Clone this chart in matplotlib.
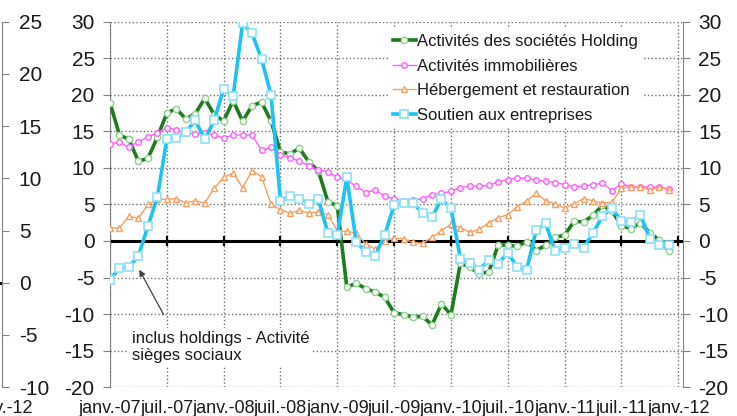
import matplotlib
matplotlib.use("Agg")
import matplotlib.pyplot as plt
import numpy as np

plt.rcParams['font.family'] = ['Liberation Sans', 'DejaVu Sans']
plt.rcParams['axes.unicode_minus'] = False

# monthly values, janv. 2007 -> déc. 2011
months = np.arange(60)
tick_pos = np.arange(0, 61, 6)
tick_labels = ['janv.-07', 'juil.-07', 'janv.-08', 'juil.-08', 'janv.-09', 'juil.-09',
               'janv.-10', 'juil.-10', 'janv.-11', 'juil.-11', 'janv.-12']

holding = [18.9, 14.5, 13.9, 10.9, 11.3, 14.2, 17.5, 18.1, 16.7, 17.4,
           19.5, 17.3, 16.4, 19.2, 16.4, 18.5, 19.0, 16.4, 12.2, 11.9,
           12.7, 10.8, 9.6, 5.4, 4.8, -6.3, -5.8, -6.5, -7.0, -7.7,
           -9.8, -10.1, -10.4, -10.3, -11.5, -8.6, -10.1, -3.0, -3.6, -4.5,
           -4.2, -0.5, -0.6, -0.7, -0.1, -1.3, -0.6, 0.5, 0.8, 2.7,
           2.6, 3.5, 4.9, 4.1, 2.1, 1.7, 2.5, 1.1, 0.1, -1.4]
immo = [13.3, 13.5, 12.8, 13.6, 14.2, 14.8, 15.5, 15.2, 14.8, 14.6,
        14.8, 14.5, 14.1, 14.5, 14.5, 14.5, 12.4, 12.8, 11.8, 11.4,
        10.9, 10.3, 9.7, 9.5, 8.7, 8.3, 7.5, 6.6, 7.0, 6.1,
        5.8, 5.5, 5.6, 5.8, 6.3, 6.5, 6.8, 7.3, 7.5, 7.5,
        7.6, 8.1, 8.4, 8.6, 8.6, 8.3, 8.2, 8.0, 7.7, 7.4,
        7.5, 7.7, 7.9, 6.9, 7.8, 7.4, 7.4, 7.4, 7.4, 7.1]
heberg = [1.8, 1.8, 3.4, 3.1, 5.0, 5.7, 5.7, 5.8, 5.2, 5.5,
          5.2, 7.2, 8.7, 9.3, 7.3, 9.6, 8.8, 5.0, 4.3, 3.8,
          4.2, 3.8, 4.0, 3.6, 1.4, 1.3, 1.1, -0.4, -1.1, 0.0,
          0.4, 0.3, -0.2, -0.3, 0.5, 1.4, 2.3, 1.8, 1.2, 1.6,
          2.5, 3.2, 3.6, 4.7, 5.5, 6.5, 5.5, 5.1, 4.5, 5.1,
          5.8, 5.5, 5.2, 5.3, 7.2, 7.4, 7.4, 7.0, 7.4, 7.0]
soutien = [-5.3, -3.7, -3.6, -2.0, 2.0, 6.0, 13.9, 14.1, 14.9, 16.5,
           13.9, 16.5, 20.8, 19.8, 29.8, 28.4, 24.9, 20.0, 5.5, 6.1,
           5.8, 5.1, 5.7, 1.1, 0.8, 8.7, -0.1, -1.5, -2.0, 0.8,
           4.9, 5.2, 5.2, 3.8, 3.3, 5.7, 4.5, -2.4, -3.0, -3.9,
           -2.6, -3.1, -1.6, -3.6, -3.9, 1.5, 2.4, -1.4, -0.9, -0.4,
           -0.9, 1.1, 3.4, 4.5, 2.7, 2.6, 3.6, 0.3, -0.6, -0.5]

W, H = 737, 416
fig = plt.figure(figsize=(W / 100, H / 100), dpi=100)
bottom = (H - 387.2) / H
height = 365.5 / H
txt = '#1a1a1a'

# cut-off neighbour chart on the far left
ax0 = fig.add_axes([-0.3, bottom, 0.3 + 2 / W, height])
ax0.set_ylim(-10, 25)
ax0.set_xlim(0, 1)
ax0.set_yticks(range(-10, 26, 5))
ax0.set_xticks([1])
ax0.set_xticklabels(['janv.-12'])
for s in ['top', 'left', 'bottom']:
    ax0.spines[s].set_visible(False)
ax0.spines['right'].set_color('#808080')
ax0.yaxis.tick_right()
ax0.tick_params(axis='y', direction='out', length=5, color='#808080', labelsize=15, pad=7, labelcolor=txt)
ax0.tick_params(axis='x', length=0, labelsize=13, pad=9, labelcolor=txt)
ax0.axhline(0, color='black', lw=2.2)

ax = fig.add_axes([110 / W, bottom, 573 / W, height])
ax.set_xlim(0, 60.5)
ax.set_ylim(-20, 30)
ax.set_yticks(range(-20, 31, 5))
ax.set_xticks(tick_pos)
ax.set_xticklabels(tick_labels)
ax.grid(True, linestyle=':', color='#707070', lw=1.0)
ax.set_axisbelow(True)
ax.spines['top'].set_visible(False)
ax.spines['bottom'].set_visible(False)
ax.spines['left'].set_color('#808080')
ax.spines['right'].set_color('#808080')
ax.tick_params(axis='y', direction='out', length=5, color='#808080', labelsize=15,
               left=True, right=True, labelleft=True, labelright=True, pad=6, labelcolor=txt)
ax.tick_params(axis='x', length=0, labelsize=13, pad=9, labelcolor=txt)

ax.axhline(0, color='black', lw=2.2, zorder=1.8)
ax.plot(tick_pos, np.zeros(len(tick_pos)), ls='none', marker='|', ms=7, mew=1.6,
        color='black', zorder=1.8)

ax.plot(months, holding, color='#1e7b1e', lw=2.6, marker='o', ms=4.5, mfc='white',
        mec='#8fd08f', mew=1.0, label='Activités des sociétés Holding', zorder=3)
ax.plot(months, immo, color='#ff5cff', lw=1.0, marker='o', ms=4, mfc='white',
        mec='#ff5cff', mew=1.0, label='Activités immobilières', zorder=3)
ax.plot(months, heberg, color='#f7a064', lw=1.0, marker='^', ms=4.5, mfc='white',
        mec='#f7a064', mew=1.0, label='Hébergement et restauration', zorder=3)
ax.plot(months, soutien, color='#1ec3f2', lw=2.6, marker='s', ms=5.5, mfc='white',
        mec='#8fe0fa', mew=1.2, label='Soutien aux entreprises', zorder=3)

leg = ax.legend(loc='upper left', bbox_to_anchor=(388 / W, 1 - 29 / H),
                bbox_transform=fig.transFigure, fontsize=12, frameon=True,
                facecolor='white', edgecolor='none', framealpha=1, borderpad=0.3,
                borderaxespad=0, handlelength=1.35, handletextpad=0.1,
                labelspacing=0.58, fancybox=False)
for t in leg.get_texts():
    t.set_color(txt)

ax.annotate('', xy=(2.95, -3.6), xytext=(5.8, -10.4),
            arrowprops=dict(arrowstyle='-|>', color='#404040', lw=0.9, mutation_scale=9),
            zorder=4)
ax.text(2.3, -12.3, 'inclus holdings - Activité\nsièges sociaux', ha='left', va='top',
        fontsize=12, color=txt, zorder=4,
        bbox=dict(facecolor='white', edgecolor='none', pad=2))

fig.savefig('out.png', dpi=100)
